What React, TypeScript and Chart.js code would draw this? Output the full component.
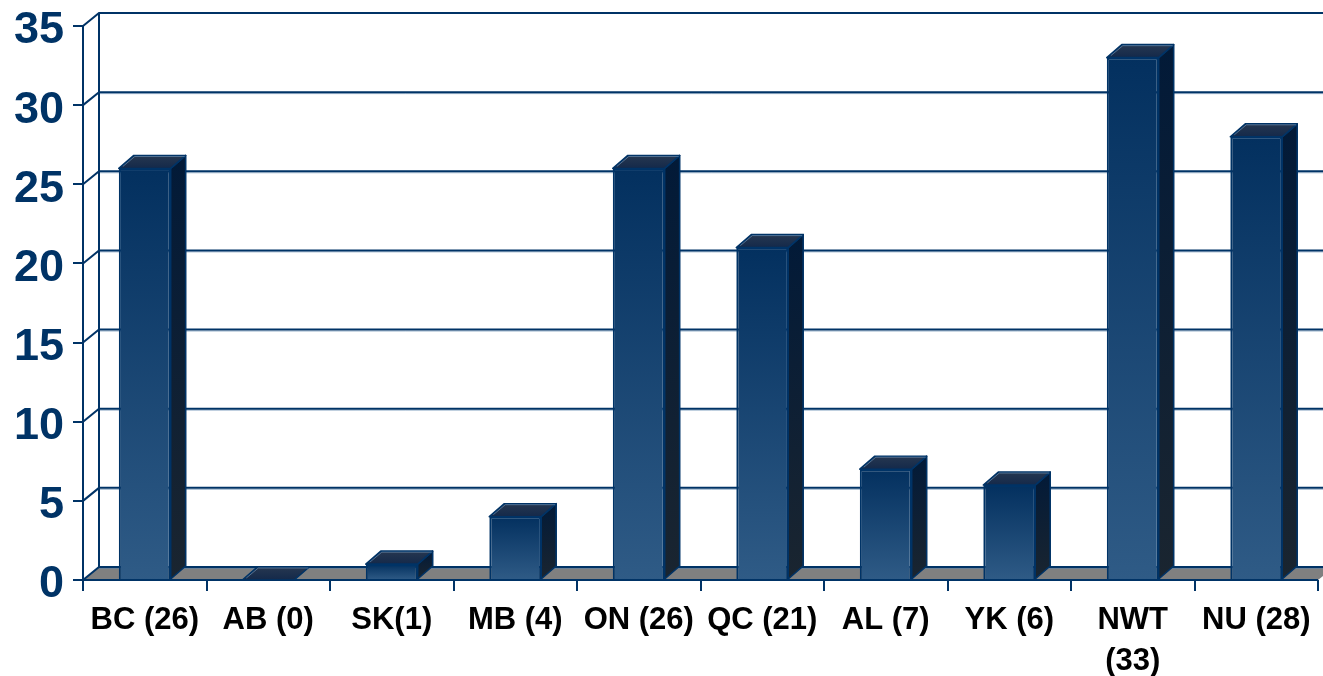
import React, { useEffect, useRef } from "react";
import { Chart, registerables } from "chart.js";

Chart.register(...registerables);

const provinces: (string | string[])[] = [
  "BC (26)", "AB (0)", "SK(1)", "MB (4)", "ON (26)", "QC (21)", "AL (7)", "YK (6)", ["NWT", "(33)"], "NU (28)",
];
const counts = [26, 0, 1, 4, 26, 21, 7, 6, 33, 28];

const NAVY = "#003366";
const DEPTH_X = 16;
const DEPTH_Y = 13;
const FONT = "'Liberation Sans', Arial, sans-serif";

function polygon(ctx: CanvasRenderingContext2D, pts: number[][]) {
  ctx.beginPath();
  pts.forEach(([x, y], i) => (i ? ctx.lineTo(x, y) : ctx.moveTo(x, y)));
  ctx.closePath();
}

// Floor, back wall and the receding grid lines behind the bars.
const backdrop = {
  id: "backdrop",
  beforeDatasetsDraw(chart: any) {
    const { ctx, scales } = chart;
    const xs = scales.x;
    const ys = scales.y;
    const base = ys.getPixelForValue(0);
    const topEdge = ys.getPixelForValue(35);
    ctx.save();
    polygon(ctx, [
      [xs.left, base],
      [xs.left + DEPTH_X, base - DEPTH_Y],
      [xs.right + DEPTH_X, base - DEPTH_Y],
      [xs.right, base],
    ]);
    ctx.fillStyle = "#808080";
    ctx.fill();

    // soft lower edge under the wall lines
    ctx.strokeStyle = "rgba(90,130,170,0.55)";
    ctx.lineWidth = 1;
    ys.ticks.forEach((t: any) => {
      if (t.value === 35) return;
      const y = ys.getPixelForValue(t.value) - DEPTH_Y + 1.5;
      ctx.beginPath();
      ctx.moveTo(xs.left + DEPTH_X, y);
      ctx.lineTo(xs.right + DEPTH_X, y);
      ctx.stroke();
    });

    ctx.strokeStyle = NAVY;
    ctx.lineWidth = 2;
    ys.ticks.forEach((t: any) => {
      const y = ys.getPixelForValue(t.value);
      ctx.beginPath();
      ctx.moveTo(xs.left, y);
      ctx.lineTo(xs.left + DEPTH_X, y - DEPTH_Y);
      ctx.lineTo(xs.right + DEPTH_X, y - DEPTH_Y);
      ctx.stroke();
    });
    ctx.beginPath();
    ctx.moveTo(xs.left + DEPTH_X, topEdge - DEPTH_Y);
    ctx.lineTo(xs.left + DEPTH_X, base - DEPTH_Y);
    ctx.moveTo(xs.left, topEdge);
    ctx.lineTo(xs.left, base);
    ctx.moveTo(xs.left, base);
    ctx.lineTo(xs.right, base);
    ctx.stroke();
    ctx.restore();
  },
};

// Side and top faces that give each bar its depth.
const barDepth = {
  id: "barDepth",
  afterDatasetsDraw(chart: any) {
    const { ctx } = chart;
    const bars = chart.getDatasetMeta(0).data;
    ctx.save();
    ctx.lineJoin = "round";
    bars.forEach((bar: any) => {
      const { x, y, base, width } = bar.getProps(["x", "y", "base", "width"], true);
      const l = x - width / 2;
      const r = x + width / 2;
      ctx.strokeStyle = NAVY;
      ctx.lineWidth = 1.6;

      if (base - y > 0.5) {
        const side = ctx.createLinearGradient(0, y - DEPTH_Y, 0, base);
        side.addColorStop(0, "#021a38");
        side.addColorStop(1, "#1a2530");
        polygon(ctx, [
          [r, y],
          [r + DEPTH_X - 1, y - DEPTH_Y],
          [r + DEPTH_X - 1, base - DEPTH_Y],
          [r, base],
        ]);
        ctx.fillStyle = side;
        ctx.fill();
        ctx.stroke();
      }

      const top = ctx.createLinearGradient(0, y - DEPTH_Y, 0, y);
      top.addColorStop(0, "#263750");
      top.addColorStop(1, "#14294a");
      polygon(ctx, [
        [l, y],
        [l + DEPTH_X - 1, y - DEPTH_Y],
        [r + DEPTH_X - 1, y - DEPTH_Y],
        [r, y],
      ]);
      ctx.fillStyle = top;
      ctx.fill();
      ctx.stroke();

      // pale inner highlight along the left and back edges of the top face
      ctx.strokeStyle = "rgba(130,165,200,0.55)";
      ctx.lineWidth = 1;
      ctx.beginPath();
      ctx.moveTo(l + 4, y - 2);
      ctx.lineTo(l + DEPTH_X, y - DEPTH_Y + 1);
      ctx.lineTo(r + DEPTH_X - 2, y - DEPTH_Y + 1);
      ctx.stroke();
    });
    ctx.restore();
  },
};

export default function App() {
  const ref = useRef<HTMLCanvasElement>(null);

  useEffect(() => {
    const chart = new Chart(ref.current!, {
      type: "bar",
      data: {
        labels: provinces as any,
        datasets: [
          {
            data: counts,
            backgroundColor: (c: any) => {
              const ys = c.chart.scales.y;
              const value = counts[c.dataIndex];
              const y0 = ys ? ys.getPixelForValue(value) : NaN;
              const y1 = ys ? ys.getPixelForValue(0) : NaN;
              if (!Number.isFinite(y0) || !Number.isFinite(y1)) return "#1b4674";
              const g = c.chart.ctx.createLinearGradient(0, y0, 0, y1);
              g.addColorStop(0, "#03305f");
              g.addColorStop(1, "#2f5b86");
              return g;
            },
            borderColor: NAVY,
            borderWidth: 2,
            categoryPercentage: 1,
            barPercentage: 0.42,
          },
        ],
      },
      options: {
        animation: false,
        responsive: false,
        events: [],
        layout: { autoPadding: false, padding: { left: 0, right: 5, top: 26, bottom: 0 } },
        plugins: { legend: { display: false }, tooltip: { enabled: false } },
        scales: {
          x: {
            afterFit(scale: any) {
              scale.height = 96;
              scale.paddingLeft = 0;
              scale.paddingRight = 0;
            },
            border: { display: false },
            grid: { drawOnChartArea: false, drawTicks: true, tickLength: 11, tickColor: NAVY, lineWidth: 2, offset: true },
            ticks: {
              color: "#000000",
              maxRotation: 0,
              autoSkip: false,
              padding: 9,
              font: { family: FONT, size: 31, weight: "bold", lineHeight: 1.32 },
            },
          },
          y: {
            min: 0,
            max: 35,
            afterFit(scale: any) {
              scale.width = 83;
              scale.paddingTop = 0;
              scale.paddingBottom = 0;
            },
            border: { display: false },
            grid: { drawOnChartArea: false, drawTicks: true, tickLength: 10, tickColor: NAVY, lineWidth: 2 },
            ticks: {
              stepSize: 5,
              color: NAVY,
              padding: 9,
              labelOffset: 5,
              font: { family: FONT, size: 45, weight: "bold" },
            },
          },
        },
      },
      plugins: [backdrop, barDepth],
    } as any);
    return () => chart.destroy();
  }, []);

  return (
    <canvas
      ref={ref}
      width={1323}
      height={676}
      style={{ position: "absolute", left: 0, top: 0, width: 1323, height: 676, background: "#ffffff" }}
    />
  );
}
